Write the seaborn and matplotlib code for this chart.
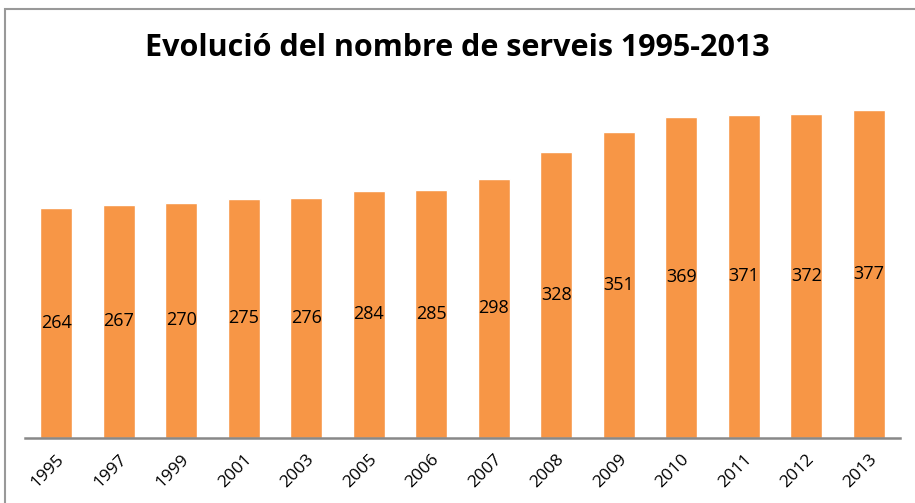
import matplotlib
matplotlib.use("Agg")
import matplotlib.pyplot as plt
import seaborn as sns
import pandas as pd
from matplotlib.patches import Rectangle

years = ["1995", "1997", "1999", "2001", "2003", "2005", "2006", "2007",
         "2008", "2009", "2010", "2011", "2012", "2013"]
serveis = [264, 267, 270, 275, 276, 284, 285, 298, 328, 351, 369, 371, 372, 377]

df = pd.DataFrame({"any": years, "serveis": serveis})

sns.set_style("white")
plt.rcParams["font.family"] = ["Open Sans", "DejaVu Sans"]

fig = plt.figure(figsize=(9.15, 5.03), dpi=100)
ax = fig.add_axes([25 / 915, (503 - 437.5) / 503, 875 / 915, 345 / 503])

sns.barplot(data=df, x="any", y="serveis", color="#F79646", saturation=1,
            width=0.51, ax=ax)

for i, v in enumerate(serveis):
    ax.text(i, v / 2, str(v), ha="center", va="center", fontsize=13, color="black")

ax.set_xlim(-0.5, len(years) - 0.5)
ax.set_ylim(0, 397)
ax.set_xlabel("")
ax.set_ylabel("")
ax.set_yticks([])
for s in ["top", "right", "left"]:
    ax.spines[s].set_visible(False)
ax.spines["bottom"].set_color("#888888")
ax.spines["bottom"].set_linewidth(1.8)
ax.tick_params(axis="x", length=0, pad=10, labelsize=12.5, labelcolor="black")
plt.setp(ax.get_xticklabels(), rotation=45, ha="right", rotation_mode="anchor")

fig.text(0.5, 1 - 48 / 503, "Evolució del nombre de serveis 1995-2013",
         ha="center", va="center", fontsize=22, fontweight="bold", color="black")

fig.patches.append(Rectangle((4.5 / 915, -0.1), 1.2, 1 - 8.5 / 503 + 0.1,
                             transform=fig.transFigure, fill=False,
                             edgecolor="#999999", linewidth=1.5))

fig.savefig("out.png", dpi=100)
